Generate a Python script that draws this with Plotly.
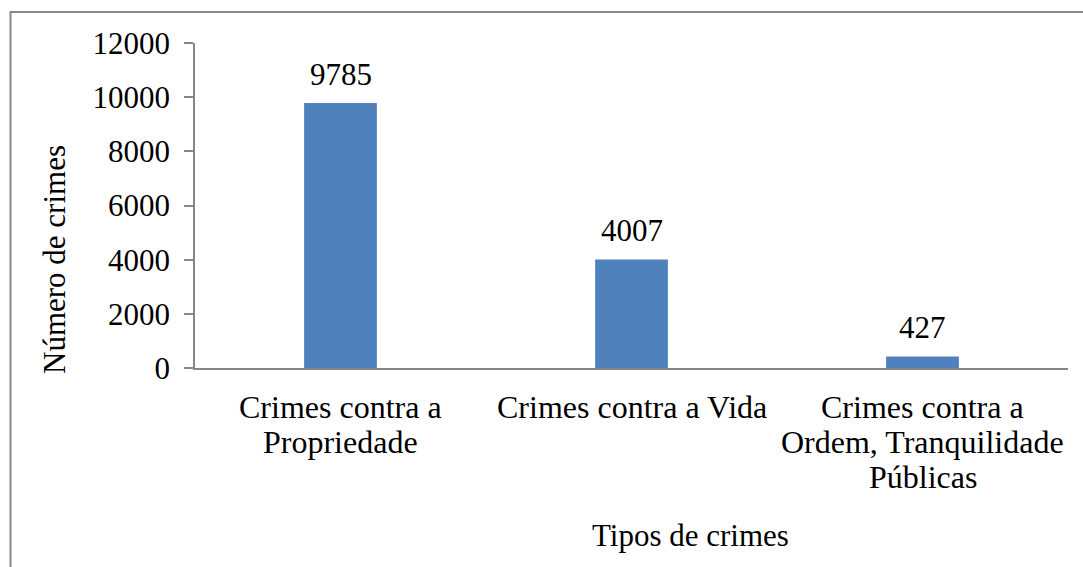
import plotly.graph_objects as go

# Data
categories = [
    "Crimes contra a<br>Propriedade",
    "Crimes contra a Vida",
    "Crimes contra a<br>Ordem, Tranquilidade<br>Públicas",
]
counts = [9785, 4007, 427]
y_ticks = [0, 2000, 4000, 6000, 8000, 10000, 12000]
y_tick_text = [str(t) for t in y_ticks]

W, H = 1083, 567
ML, MR, MT, MB = 195, 15, 43, 199
PW, PH = W - ML - MR, H - MT - MB

FONT = "Liberation Serif"
FS = 31
FS_CAT = 32
LINE_PITCH = 35
GRAY = "#878787"


def px_x(p):
    return (p - ML) / PW


def px_y(p):
    return (H - MB - p) / PH


fig = go.Figure(
    go.Bar(
        x=categories,
        y=counts,
        width=0.25,
        marker=dict(color="#4F81BD", line=dict(width=0)),
    )
)

# value labels above each bar
for c, v in zip(categories, counts):
    fig.add_annotation(
        x=c, y=v, text=str(v), showarrow=False,
        yanchor="bottom", yshift=9,
        font=dict(family=FONT, size=FS, color="black"),
    )

# category labels under the axis, one line at a time for tighter leading
for c in categories:
    for i, line in enumerate(c.split("<br>")):
        fig.add_annotation(
            x=c, xref="x", y=px_y(407 + LINE_PITCH * i), yref="paper",
            text=line, showarrow=False,
            xanchor="center", yanchor="middle",
            font=dict(family=FONT, size=FS_CAT, color="black"),
        )

# axis titles
fig.add_annotation(
    x=px_x(690), y=px_y(535), xref="paper", yref="paper",
    text="Tipos de crimes", showarrow=False,
    xanchor="center", yanchor="middle",
    font=dict(family=FONT, size=FS, color="black"),
)
fig.add_annotation(
    x=px_x(54), y=px_y(260), xref="paper", yref="paper",
    text="Número de crimes", showarrow=False, textangle=-90,
    xanchor="center", yanchor="middle",
    font=dict(family=FONT, size=FS, color="black"),
)

# chart frame
fig.add_shape(
    type="rect", xref="paper", yref="paper",
    x0=px_x(10.5), x1=px_x(1100), y0=px_y(12), y1=px_y(590),
    line=dict(color=GRAY, width=2), fillcolor="rgba(0,0,0,0)",
    layer="below",
)

fig.update_layout(
    width=W, height=H,
    margin=dict(l=ML, r=MR, t=MT, b=MB, pad=0),
    paper_bgcolor="white", plot_bgcolor="white",
    showlegend=False,
    font=dict(family=FONT, size=FS, color="black"),
    xaxis=dict(
        type="category", range=[-0.5, 2.5],
        showline=True, linecolor=GRAY, linewidth=1.5,
        ticks="", showgrid=False, zeroline=False,
        showticklabels=False,
    ),
    yaxis=dict(
        range=[0, 12000], tickvals=y_ticks, ticktext=y_tick_text,
        showline=True, linecolor=GRAY, linewidth=1.5,
        ticks="outside", ticklen=9, tickcolor=GRAY, tickwidth=1.5,
        showgrid=False, zeroline=False,
        tickfont=dict(family=FONT, size=FS, color="black"),
        ticklabelstandoff=8,
    ),
)

fig.write_html("out.html")
